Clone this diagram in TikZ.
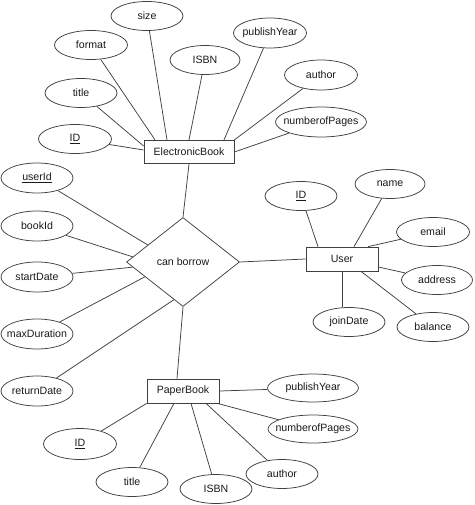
\documentclass[tikz,border=0pt]{standalone}
\usepackage{fontspec}
\setmainfont{Liberation Sans}
\usetikzlibrary{shapes.geometric,calc}
\newcommand\attrtext[1]{\makebox[0pt]{#1}}
\tikzset{
  er/.style={draw=black!75, line width=0.75pt},
  attr/.style={er, ellipse, minimum width=72pt, minimum height=29pt, inner sep=0pt, text=black!90, font=\fontsize{10.6}{12}\selectfont},
  wideattr/.style={attr, minimum width=91pt},
  entity/.style={er, rectangle, minimum height=23.5pt, inner sep=0pt, text=black!90, font=\fontsize{10.6}{12}\selectfont},
  rel/.style={er, diamond, minimum width=113pt, minimum height=89pt, inner sep=0pt, text=black!90, font=\fontsize{10.6}{12}\selectfont},
  link/.style={er}
}
\begin{document}
\begin{tikzpicture}[x=1pt,y=-1pt]
\useasboundingbox (0,0) rectangle (474,505);
% entities and relation
\node[entity, minimum width=90pt] (eb) at (189,152) {ElectronicBook};
\node[entity, minimum width=72pt, minimum height=24pt] (pb) at (183,391) {PaperBook};
\node[entity, minimum width=72pt, minimum height=24pt] (us) at (342,259) {User};
\node[rel] (cb) at (183,262) {can borrow};
% ElectronicBook attributes
\node[attr] (ebsize) at (147,16) {\attrtext{size}};
\node[attr, minimum width=73pt] (ebformat) at (91,45) {\attrtext{format}};
\node[attr, minimum width=70pt] (ebisbn) at (205,60) {\attrtext{ISBN}};
\node[attr] (ebtitle) at (81,93) {\attrtext{title}};
\node[attr, minimum width=73pt] (ebid) at (75,139) {\attrtext{\underline{ID}}};
\node[attr, minimum width=73pt, minimum height=30pt] (ebyear) at (270,33) {\attrtext{publishYear}};
\node[attr, minimum width=73pt, minimum height=30pt] (ebauthor) at (321,75) {\attrtext{author}};
\node[wideattr, minimum height=30pt] (ebpages) at (321,122) {\attrtext{numberofPages}};
% relation attributes
\node[attr, minimum height=30pt] (userid) at (37,178) {\attrtext{\underline{userId}}};
\node[attr, minimum height=30pt] (bookid) at (37,226) {\attrtext{bookId}};
\node[attr, minimum height=30pt] (start) at (37,277) {\attrtext{startDate}};
\node[attr, minimum height=30pt] (maxd) at (37,334) {\attrtext{maxDuration}};
\node[attr, minimum height=30pt] (ret) at (37,391) {\attrtext{returnDate}};
% User attributes
\node[attr] (usid) at (301,196) {\attrtext{\underline{ID}}};
\node[attr, minimum width=70pt] (usname) at (390,184) {\attrtext{name}};
\node[attr, minimum width=73pt] (usemail) at (433,232) {\attrtext{email}};
\node[attr, minimum width=71pt] (usaddr) at (437,280) {\attrtext{address}};
\node[attr] (usjoin) at (349,322) {\attrtext{joinDate}};
\node[attr] (usbal) at (433,327) {\attrtext{balance}};
% PaperBook attributes
\node[wideattr, minimum height=28pt] (pbyear) at (313,388) {\attrtext{publishYear}};
\node[wideattr, minimum width=90pt, minimum height=28pt] (pbpages) at (313,429) {\attrtext{numberofPages}};
\node[attr, minimum width=73pt, minimum height=31pt] (pbid) at (80,444) {\attrtext{\underline{ID}}};
\node[attr] (pbtitle) at (132,482) {\attrtext{title}};
\node[attr] (pbisbn) at (216,489) {\attrtext{ISBN}};
\node[attr] (pbauthor) at (282,474) {\attrtext{author}};
% ElectronicBook links
\draw[link] (ebsize) -- ([xshift=-22pt]eb.north);
\draw[link] (ebformat) -- ([xshift=-34pt]eb.north);
\draw[link] (ebisbn) -- (eb.north);
\draw[link] (ebtitle) -- ([yshift=6pt]eb.west);
\draw[link] (ebid) -- ([yshift=2pt]eb.west);
\draw[link] (ebyear) -- ([xshift=35pt]eb.north);
\draw[link] (ebauthor) -- (eb.north east);
\draw[link] (ebpages) -- (eb.east);
% relation links
\draw[link] (cb.north) -- (eb.south);
\draw[link] (cb.south) -- ([xshift=-6pt]pb.north);
\draw[link] (cb.east) -- (us.west);
\draw[link] (userid) -- ($(cb.west)!0.38!(cb.north)$);
\draw[link] (bookid) -- ($(cb.west)!0.115!(cb.north)$);
\draw[link] (start) -- ($(cb.west)!0.115!(cb.south)$);
\draw[link] (maxd) -- ($(cb.west)!0.33!(cb.south)$);
\draw[link] (ret) -- ($(cb.west)!0.84!(cb.south)$);
% User links
\draw[link] (usid) -- ([xshift=-24pt]us.north);
\draw[link] (usname) -- ([xshift=12pt]us.north);
\draw[link] (usemail) -- ([xshift=26pt]us.north);
\draw[link] (usaddr) -- ([yshift=-8pt]us.east);
\draw[link] (us.south) -- (us.south |- usjoin.north);
\draw[link] (usbal) -- ([xshift=19pt]us.south);
% PaperBook links
\draw[link] (pb.east) -- (pbyear);
\draw[link] ([xshift=-2pt]pb.south east) -- (pbpages);
\draw[link] (pb.south west) -- (pbid);
\draw[link] ([xshift=-9pt]pb.south) -- (pbtitle);
\draw[link] ([xshift=8pt]pb.south) -- (pbisbn);
\draw[link] ([xshift=23pt]pb.south) -- (pbauthor);
\end{tikzpicture}
\end{document}
